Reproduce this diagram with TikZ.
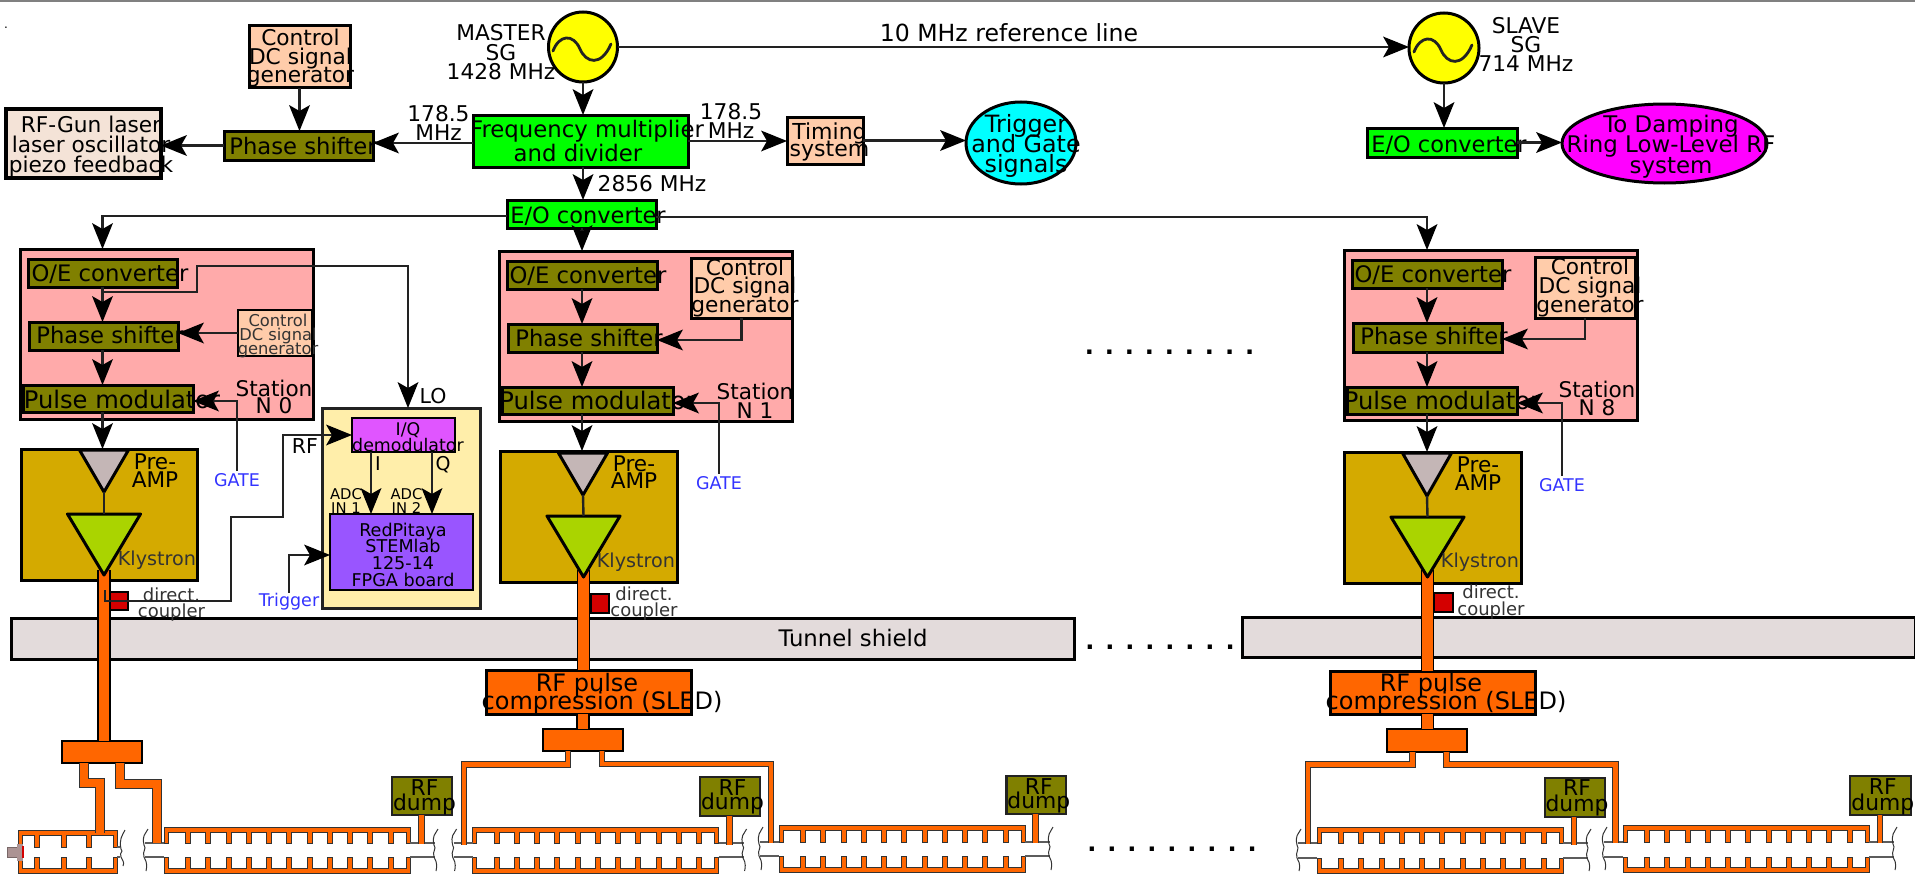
\documentclass[tikz,border=0pt]{standalone}
\usepackage{fontspec}
\setmainfont{DejaVu Sans}
\usetikzlibrary{arrows.meta,calc,shapes.geometric}
\lineskiplimit=-100pt
\definecolor{peach}{HTML}{FFCCAA}
\definecolor{oliveb}{HTML}{808000}
\definecolor{pinkb}{HTML}{FFAAAA}
\definecolor{goldb}{HTML}{D4AA00}
\definecolor{lime}{HTML}{AAD400}
\definecolor{greyt}{HTML}{C4B6B6}
\definecolor{wgor}{HTML}{FF6600}
\definecolor{redc}{HTML}{D40000}
\definecolor{shield}{HTML}{E3DBDB}
\definecolor{creamb}{HTML}{FFEEAA}
\definecolor{gunb}{HTML}{F4E3D7}
\definecolor{violb}{HTML}{9955FF}
\definecolor{iqb}{HTML}{E055FF}
\definecolor{bluet}{HTML}{3333FF}
\definecolor{gunc}{HTML}{AC9393}
\definecolor{dk}{HTML}{222222}
\definecolor{txg}{HTML}{333333}
\definecolor{cyanb}{HTML}{00FFFF}
\definecolor{magb}{HTML}{FF00FF}
\definecolor{yelb}{HTML}{FFFF00}
\definecolor{greenb}{HTML}{00FF00}
\tikzset{
 x=1pt,y=-1pt,
 box/.style={rectangle,draw=black,line width=3pt,inner sep=0pt,outer sep=0pt},
 thinbox/.style={box,line width=2.2pt},
 olivebox/.style={box,fill=oliveb},
 greenbox/.style={box,fill=greenb},
 peachbox/.style={box,fill=peach},
 pinkbox/.style={box,fill=pinkb},
 goldbox/.style={box,fill=goldb},
 orbox/.style={box,fill=wgor},
 dumpbox/.style={thinbox,fill=oliveb,draw=dk},
 redbox/.style={thinbox,fill=redc},
 shieldbox/.style={box,fill=shield},
 osc/.style={ellipse,draw=black,line width=3pt,fill=yelb,inner sep=0pt,outer sep=0pt},
 lbl/.style={align=center,inner sep=0pt,outer sep=0pt,yshift=-4pt},
 fnt/.style 2 args={font=\fontsize{#1}{#2}\selectfont},
 blue lbl/.style={text=bluet,fnt={17.5}{17}},
 arr/.style={draw=dk,line width=2.4pt,-{Stealth[length=26pt,width=21pt,inset=6pt,color=black,line width=0pt]}},
 plain/.style={draw=dk,line width=2.4pt},
 wgmain/.style={draw=black,line width=1.4pt,double=wgor,double distance=10.6pt},
 wgbranch/.style={draw=txg,line width=1pt,double=wgor,double distance=4.6pt,line join=miter},
 wgfat/.style={draw=txg,line width=1pt,double=wgor,double distance=8pt,line join=miter},
 comb/.style={draw=txg,line width=1pt,fill=wgor},
 pipe/.style={draw=txg!80,line width=1.2pt},
 brk/.style={draw=txg,line width=1pt},
 tip/.style={draw=black,line width=3pt,line join=round},
}
\newcommand{\bx}[6]{\node[#1,minimum width={(#5-#3)*1pt},minimum height={(#6-#4)*1pt}] (#2) at ({(#3+#5)/2},{(#4+#6)/2}) {};}
\newcommand{\tl}[5]{\node[lbl,#2] (#1) at (#3,#4) {\strut #5\strut};}
\newcommand{\tri}[6]{\filldraw[tip,fill=#6] ({#2-#4},#3) -- ({#2+#4},#3) -- (#2,{#3+#5}) -- cycle;
 \coordinate (#1-top) at (#2,#3); \coordinate (#1-tip) at (#2,{#3+#5});}
\newcommand{\longteeth}{21.5,41.75,62,82.25,102.5,122.75,143,163.25,183.5,203.75,224}
% accelerating structure: x0 x1 teeth ytop ypipetop ypipebot ybot
\newcommand{\accel}[7]{%
 \filldraw[comb] ({#2},#5) -- ({#2},#4) -- (#1,#4) -- (#1,#5) -- ({#1+4},#5) -- ({#1+4},{#4+5})
  foreach \tx in #3 { -- ({#1+\tx},{#4+5}) -- ({#1+\tx},#5) -- ({#1+\tx+5},#5) -- ({#1+\tx+5},{#4+5}) }
  -- ({#2-4},{#4+5}) -- ({#2-4},#5) -- cycle;
 \filldraw[comb] ({#2},#6) -- ({#2},#7) -- (#1,#7) -- (#1,#6) -- ({#1+4},#6) -- ({#1+4},{#7-5})
  foreach \tx in #3 { -- ({#1+\tx},{#7-5}) -- ({#1+\tx},#6) -- ({#1+\tx+5},#6) -- ({#1+\tx+5},{#7-5}) }
  -- ({#2-4},{#7-5}) -- ({#2-4},#6) -- cycle;
}
\newcommand{\brkline}[5]{\draw[brk] ({#1+3},{#2}) .. controls ({#1},{#2+6}) and ({#1-3},{#3-8}) .. ({#1-1},{#3+2}) .. controls ({#1+2},{#3+6}) and ({#1-3},{#4-6}) .. ({#1-1},{#4}) .. controls ({#1},{#4+3}) and ({#1+3},{#4+5}) .. ({#1+1},{#5});}
\newcommand{\longacc}[5]{% x0 yt ypt ypb yb
 \accel{#1}{#1+246}{\longteeth}{#2}{#3}{#4}{#5}
 \draw[pipe] ({#1-19},#3) -- (#1,#3) ({#1-19},#4) -- (#1,#4) ({#1+246},#3) -- ({#1+271},#3) ({#1+246},#4) -- ({#1+271},#4);
 \brkline{#1-19}{#2+2}{#3}{#4}{#5-2}
 \brkline{#1+271}{#2+2}{#3}{#4}{#5-2}
}
\newcommand{\wgsine}[2]{\draw[line width=2.8pt,draw=dk,line cap=round] ({#1-30},{#2+4}) .. controls ({#1-24},{#2-12}) and ({#1-10},{#2-14}) .. ({#1-3},{#2+2}) .. controls ({#1+3},{#2+16}) and ({#1+18},{#2+20}) .. ({#1+28},{#2-3});}
\newcommand{\dk}{\kern 10.9pt}
\begin{document}
\begin{tikzpicture}
\useasboundingbox (0,0) rectangle (1915,875);
\fill[gray] (0,0) rectangle (1915,2.5);
% tunnel shields
\bx{shieldbox}{sh1}{11}{618}{1074}{659}
\bx{shieldbox}{sh2}{1242}{617}{1915}{657}
% accelerating structures
\accel{18}{117}{{16.3,43,68}}{830}{847}{857}{873}
\draw[pipe] (117,847) -- (120,847) (117,857) -- (120,857);
\brkline{122}{830}{847}{857}{866}
\longacc{164}{827}{843}{857}{873}
\longacc{472.6}{827}{843}{857}{873}
\longacc{779}{825}{842}{856}{872}
\longacc{1317}{827}{843}{858}{873}
\longacc{1623}{825}{842}{857}{872}
% electron gun
\node[rectangle,fill=gunc,draw=gunc!70!black,line width=.6pt,inner sep=0pt,minimum width=15pt,minimum height=10pt] (gunblk) at (14.5,852) {};
\node[rectangle,fill=gunc,inner sep=0pt,minimum width=6pt,minimum height=17pt] (gunneck) at (19.5,852) {};
\node[rectangle,fill=redc,inner sep=0pt,minimum width=1.5pt,minimum height=12pt] (gunred) at (22.8,852) {};
% top row boxes
\bx{peachbox}{ctrl}{249}{26}{350}{88}
\bx{greenbox}{fm}{473}{115}{688}{167}
\bx{olivebox}{ps}{224}{131}{373}{160}
\bx{box,fill=gunb,line width=4pt}{gun}{6}{109}{161}{178}
\bx{greenbox}{eo}{507}{200}{656}{228}
\bx{peachbox}{tim}{787}{117}{863}{164}
\bx{greenbox}{seo}{1367.5}{128}{1517}{157}
\node[osc,minimum width=69pt,minimum height=70pt] (msg) at (583,47) {};
\node[osc,minimum width=70pt,minimum height=70pt] (ssg) at (1444,48) {};
\node[ellipse,draw=black,line width=3pt,fill=cyanb,inner sep=0pt,outer sep=0pt,minimum width=110pt,minimum height=82pt] (trig) at (1021,143) {};
\node[ellipse,draw=black,line width=3pt,fill=magb,inner sep=0pt,outer sep=0pt,minimum width=205pt,minimum height=79pt] (rng) at (1664.5,143.5) {};
\wgsine{583}{47}
\wgsine{1444}{48}
% station 0
\bx{pinkbox}{st0}{20}{249}{313}{419}
\bx{olivebox}{oe0}{28}{259}{177}{287}
\bx{olivebox}{ps0}{29}{322}{178}{350}
\bx{olivebox}{pm0}{23}{385}{193}{412}
\bx{thinbox,fill=peach}{ct0}{238}{310}{312}{356}
\bx{goldbox}{kb0}{21}{449}{197}{580}
\bx{box,fill=creamb,draw=dk}{yel}{322}{408}{480}{608}
\bx{box,fill=iqb,line width=2.4pt}{iq}{352}{418}{455}{452}
\bx{box,fill=violb,line width=2.4pt}{pur}{330}{514}{473}{590}
\bx{redbox}{dc0}{110}{592}{128}{610}
% station 1
\bx{pinkbox}{st1}{499}{251}{792}{421}
\bx{olivebox}{oe1}{507}{261}{657}{289}
\bx{olivebox}{ps1}{508}{324}{657}{352}
\bx{olivebox}{pm1}{502}{387}{673}{414}
\bx{peachbox}{ct1}{691}{258}{792}{318}
\bx{goldbox}{kb1}{500}{451}{677}{582}
\bx{redbox}{dc1}{591}{594}{609}{613}
\bx{orbox}{sled1}{486}{670}{691}{714}
% station 8
\bx{pinkbox}{st8}{1344}{250}{1637}{420}
\bx{olivebox}{oe8}{1352}{260}{1502}{288}
\bx{olivebox}{ps8}{1353}{323}{1502}{352}
\bx{olivebox}{pm8}{1347}{387}{1517}{414}
\bx{peachbox}{ct8}{1535}{257}{1635}{318}
\bx{goldbox}{kb8}{1344}{452}{1521}{583}
\bx{redbox}{dc8}{1434}{593}{1453}{612}
\bx{orbox}{sled8}{1330}{671}{1535}{714}
% splitters
\bx{orbox,line width=2.4pt}{sp0}{62}{741}{142}{763}
\bx{orbox,line width=2.4pt}{sp1}{543}{729}{623}{751}
\bx{orbox,line width=2.4pt}{sp8}{1387}{729}{1467}{752}
% dumps
\bx{dumpbox}{d01}{392}{777}{452}{815}
\bx{dumpbox}{d11}{700}{777}{760}{816}
\bx{dumpbox}{d12}{1006.5}{776}{1066}{814}
\bx{dumpbox}{d81}{1545}{778}{1605}{817}
\bx{dumpbox}{d82}{1850}{776}{1911}{815}
% free ends of the waveguides on the structures
\coordinate (a01) at (100,833); \coordinate (a02) at (157,843);
\coordinate (a11) at (464,845); \coordinate (a12) at (771,843);
\coordinate (a81) at (1308,844); \coordinate (a82) at (1615.5,843);
\coordinate (e01) at (421.5,844); \coordinate (e11) at (729.5,845); \coordinate (e12) at (1035.7,843);
\coordinate (e81) at (1574,845); \coordinate (e82) at (1880,843);
% waveguides
\draw[wgmain] (104,570) -- (104,741);
\draw[wgmain] (583.5,570) -- (583.5,670);
\draw[wgmain] (583,714) -- (583,729);
\draw[wgmain] (1427.5,570) -- (1427.5,671);
\draw[wgmain] (1427.5,714) -- (1427.5,729);
\draw[wgfat] ([xshift=-18.5pt]sp0.south) -- ++(0,19.5) -| (a01);
\draw[wgfat] ([xshift=17.5pt]sp0.south) -- ++(0,20.5) -| (a02);
\draw[wgbranch] ([xshift=-15pt]sp1.south) -- ++(0,13.5) -| (a11);
\draw[wgbranch] ([xshift=19pt]sp1.south) -- ++(0,13) -| (a12);
\draw[wgbranch] ([xshift=-14.5pt]sp8.south) -- ++(0,12.5) -| (a81);
\draw[wgbranch] ([xshift=19.5pt]sp8.south) -- ++(0,12.5) -| (a82);
\draw[wgbranch] (d01.south -| e01) -- (e01);
\draw[wgbranch] (d11.south -| e11) -- (e11);
\draw[wgbranch] (d12.south -| e12) -- (e12);
\draw[wgbranch] (d81.south -| e81) -- (e81);
\draw[wgbranch] (d82.south -| e82) -- (e82);
% amplifiers
\tri{pa0}{104}{450}{24.5}{42}{greyt}
\tri{ky0}{104}{514}{36.5}{61}{lime}
\tri{pa1}{583}{453}{24.5}{42}{greyt}
\tri{ky1}{583.5}{516}{36.5}{61}{lime}
\tri{pa8}{1427}{453}{24.5}{43}{greyt}
\tri{ky8}{1427.5}{517}{36.5}{60}{lime}
\draw[plain] (pa0-tip) -- (ky0-top);
\draw[plain] (pa1-tip) -- (ky1-top);
\draw[plain] (pa8-tip) -- (ky8-top);
% text: top
\tl{tdot}{fnt={12}{12}}{6}{22}{.}
\tl{tctrl}{fnt={21.7}{18.5}}{300.5}{55}{Control\\DC signal\\generator}
\tl{tmaster}{fnt={21.7}{19.5}}{501}{51}{MASTER\\SG\\1428 MHz}
\tl{tslave}{fnt={21.7}{19}}{1526}{43}{SLAVE\\SG\\714 MHz}
\tl{tfm}{fnt={22.8}{24}}{587}{140}{Frequency multiplier\\and divider\hspace*{18pt}}
\tl{tps}{fnt={22.7}{20}}{303}{145}{Phase shifter}
\tl{tgun}{fnt={21.7}{20}}{91}{143}{RF-Gun laser\\laser oscillator\\piezo feedback}
\tl{tf1}{fnt={21.7}{19}}{438.5}{121.5}{178.5\\MHz}
\tl{tf2}{fnt={21.7}{19}}{731}{119.5}{178.5\\MHz}
\tl{t2856}{fnt={21.7}{20}}{652}{182}{2856 MHz}
\tl{teo}{fnt={22.5}{20}}{588}{214}{E/O converter}
\tl{t10}{fnt={23.6}{20}}{1009}{32}{10 MHz reference line}
\tl{tim-t}{fnt={22}{17.5}}{829.5}{138.5}{Timing\\system}
\tl{trig-t}{fnt={23.8}{20}}{1026}{142}{Trigger\\and Gate\\signals}
\tl{seo-t}{fnt={22.5}{20}}{1449}{143}{E/O converter}
\tl{rng-t}{fnt={22.9}{20.5}}{1671}{143}{To Damping\\Ring Low-Level RF\\system}
% text: station 0
\tl{oe0-t}{fnt={22.7}{20}}{110}{272}{O/E converter}
\tl{ps0-t}{fnt={22.7}{20}}{110}{334}{Phase shifter}
\tl{pm0-t}{fnt={24.2}{20}}{122}{398}{Pulse modulator}
\tl{ct0-t}{fnt={16.3}{14},text=txg}{278}{332}{Control\\DC signal\\generator}
\tl{st0-t}{fnt={21.6}{17.5}}{274}{395.5}{Station\\N 0}
\tl{pa0-t}{fnt={21.6}{18}}{155}{469}{Pre-\\AMP}
\tl{ky0-t}{fnt={19.2}{18},text=txg}{157}{557}{Klystron}
\tl{dc0-t}{fnt={18}{16.5},text=txg}{171.5}{601}{direct.\\coupler}
\tl{gate0}{blue lbl}{237}{479}{GATE}
\tl{trg}{blue lbl}{289}{598}{Trigger}
\tl{trf}{fnt={20.5}{18}}{305}{445}{RF}
\tl{tlo}{fnt={20.5}{18}}{433}{395}{LO}
\tl{iq-t}{fnt={17.4}{16}}{408}{435}{I/Q\\demodulator}
\tl{ti}{fnt={19}{18}}{378}{462}{I}
\tl{tq}{fnt={19}{18}}{443}{462}{Q}
\tl{adc1}{fnt={14.8}{14}}{346}{499}{ADC\\IN 1}
\tl{adc2}{fnt={14.8}{14}}{406.5}{499}{ADC\\IN 2}
\tl{pur-t}{fnt={17.6}{16.7}}{403}{553}{RedPitaya\\STEMlab\\125-14\\FPGA board}
% text: station 1
\tl{oe1-t}{fnt={22.7}{20}}{588}{274}{O/E converter}
\tl{ps1-t}{fnt={22.7}{20}}{589}{337}{Phase shifter}
\tl{pm1-t}{fnt={24.2}{20}}{597.5}{399}{Pulse modulator}
\tl{ct1-t}{fnt={21.7}{18.5}}{745}{284.5}{Control\\DC signal\\generator}
\tl{st1-t}{fnt={21.6}{18.5}}{755}{399.5}{Station\\N 1}
\tl{pa1-t}{fnt={21.6}{17.5}}{634}{470.5}{Pre-\\AMP}
\tl{ky1-t}{fnt={19.2}{18},text=txg}{636}{559}{Klystron}
\tl{dc1-t}{fnt={18}{16},text=txg}{644}{600}{direct.\\coupler}
\tl{gate1}{blue lbl}{719}{482}{GATE}
\tl{sled1-t}{fnt={24}{18.5}}{602}{690}{RF pulse\hspace*{30pt}\\compression (SLED)}
\tl{d01-t}{fnt={21.8}{15}}{424.5}{793.5}{RF\\dump}
\tl{d11-t}{fnt={21.8}{14.5}}{732.5}{793}{RF\\dump}
\tl{d12-t}{fnt={21.8}{14.5}}{1038.8}{792}{RF\\dump}
\tl{d81-t}{fnt={21.8}{15.5}}{1577}{794}{RF\\dump}
\tl{d82-t}{fnt={21.8}{15.5}}{1882.8}{793}{RF\\dump}
% text: station 8
\tl{oe8-t}{fnt={22.7}{20}}{1433}{273}{O/E converter}
\tl{ps8-t}{fnt={22.7}{20}}{1434}{335}{Phase shifter}
\tl{pm8-t}{fnt={24.2}{20}}{1442}{399}{Pulse modulator}
\tl{ct8-t}{fnt={21.7}{19}}{1590}{284}{Control\\DC signal\\generator}
\tl{st8-t}{fnt={21.6}{18}}{1597}{397}{Station\\N 8}
\tl{pa8-t}{fnt={21.6}{18}}{1478}{472}{Pre-\\AMP}
\tl{ky8-t}{fnt={19.2}{18},text=txg}{1480}{559}{Klystron}
\tl{dc8-t}{fnt={18}{17.5},text=txg}{1491}{599}{direct.\\coupler}
\tl{gate8}{blue lbl}{1562}{484}{GATE}
\tl{sled8-t}{fnt={24}{18}}{1446}{690.5}{RF pulse\hspace*{30pt}\\compression (SLED)}
\tl{tun}{fnt={22.8}{20}}{853}{637}{Tunnel shield}
% dot rows
\node[font=\fontsize{24}{24}\selectfont\bfseries,inner sep=0pt,anchor=base] (dots1) at (1169.5,354.5) {.\dk.\dk.\dk.\dk.\dk.\dk.\dk.\dk.};
\node[font=\fontsize{24}{24}\selectfont\bfseries,inner sep=0pt,anchor=base] (dots2) at (1160,649) {.\dk.\dk.\dk.\dk.\dk.\dk.\dk.};
\node[font=\fontsize{24}{24}\selectfont\bfseries,inner sep=0pt,anchor=base] (dots3) at (1172,851) {.\dk.\dk.\dk.\dk.\dk.\dk.\dk.\dk.};
% connectors
\draw[arr] (ctrl.south) -- (ctrl.south |- ps.north);
\draw[arr] (msg.south) -- (msg.south |- fm.north);
\draw[arr] ([yshift=-2pt]fm.west) -- ([yshift=-2pt]fm.west -| ps.east);
\draw[arr] (ps.west) -- (ps.west -| gun.east);
\draw[arr] (fm.east) -- (fm.east -| tim.west);
\draw[arr] (tim.east) -- (tim.east -| trig.west);
\draw[arr] (msg.south |- fm.south) -- (msg.south |- eo.north);
\draw[arr] (msg.east) -- (msg.east -| ssg.west);
\draw[arr] (ssg.south) -- (ssg.south |- seo.north);
\draw[arr] (seo.east) -- (seo.east -| rng.west);
\draw[arr] ([yshift=-2pt]eo.west) -| (oe0.north |- st0.north);
\draw[arr] ([yshift=-3pt]eo.east) -| (oe8.north |- st8.north);
\draw[arr] (oe1.north |- eo.south) -- (oe1.north |- st1.north);
% station 0 connectors
\draw[arr] (oe0.south) -- (oe0.south |- ps0.north);
\draw[arr] (oe0.south |- ps0.south) -- (oe0.south |- pm0.north);
\draw[arr] (oe0.south |- pm0.south) -- (oe0.south |- kb0.north);
\draw[arr] (ct0.west) -- (ct0.west -| ps0.east);
\draw[arr] ([yshift=3pt]gate0.north) |- ([yshift=-2.5pt]pm0.east);
\coordinate (lo0) at (103,292);
\coordinate (dcn0) at (105,590);
\draw[arr] (lo0) -- (197,292) -- (197,266) -| ([xshift=7pt]yel.north);
\draw[arr] (dcn0) -- (105,601) -- (231,601) -- (231,517) -- (283,517) |- (iq.west);
\draw[arr] ([xshift=-32.5pt]iq.south) -- ([xshift=-32.5pt]iq.south |- pur.north);
\draw[arr] ([xshift=28.5pt]iq.south) -- ([xshift=28.5pt]iq.south |- pur.north);
\draw[arr] (trg.north) |- ([yshift=-3pt]pur.west);
% station 1 connectors
\draw[arr] (oe1.south) -- (oe1.south |- ps1.north);
\draw[arr] (oe1.south |- ps1.south) -- (oe1.south |- pm1.north);
\draw[arr] (oe1.south |- pm1.south) -- (oe1.south |- kb1.north);
\draw[arr] (ct1.south) |- ([yshift=-2pt]ps1.east);
\draw[arr] ([yshift=3pt]gate1.north) |- ([yshift=-2.5pt]pm1.east);
% station 8 connectors
\draw[arr] (oe8.south) -- (oe8.south |- ps8.north);
\draw[arr] (oe8.south |- ps8.south) -- (oe8.south |- pm8.north);
\draw[arr] (oe8.south |- pm8.south) -- (oe8.south |- kb8.north);
\draw[arr] (ct8.south) |- ([yshift=-1.5pt]ps8.east);
\draw[arr] ([yshift=3pt]gate8.north) |- ([yshift=-2.5pt]pm8.east);
\end{tikzpicture}
\end{document}
